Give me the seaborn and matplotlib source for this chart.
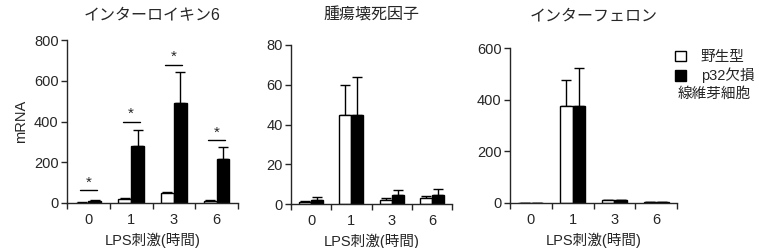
import matplotlib
matplotlib.use("Agg")
import matplotlib.pyplot as plt
import matplotlib.patches as mpatches
import seaborn as sns
import pandas as pd
import numpy as np

sns.set_style("ticks")
plt.rcParams['font.family'] = ['Liberation Sans', 'Noto Sans CJK JP']

hours = ['0', '1', '3', '6']
groups = ['野生型', 'p32欠損']

titles = ['インターロイキン6', '腫瘍壊死因子', 'インターフェロン']

il6_wt = [2, 20, 48, 12]
il6_ko = [10, 280, 490, 215]
il6_wt_err = [1, 3, 4, 3]
il6_ko_err = [5, 80, 152, 60]

tnf_wt = [1, 45, 2, 3]
tnf_ko = [2, 45, 4.5, 4.5]
tnf_wt_err = [0.4, 15, 0.8, 1.2]
tnf_ko_err = [1.5, 19, 2.5, 2.8]

ifn_wt = [1, 375, 10, 3]
ifn_ko = [1, 375, 10, 3]
ifn_wt_err = [0.5, 100, 2, 1]
ifn_ko_err = [0.5, 147, 2, 1]

ylims = [800, 80, 600]
yticks = [[0, 200, 400, 600, 800], [0, 20, 40, 60, 80], [0, 200, 400, 600]]

sig_line_y = [62, 398, 677, 308]
sig_star_y = [100, 437, 716, 346]

panels = [
    (il6_wt, il6_ko, il6_wt_err, il6_ko_err),
    (tnf_wt, tnf_ko, tnf_wt_err, tnf_ko_err),
    (ifn_wt, ifn_ko, ifn_wt_err, ifn_ko_err),
]

W, H = 759, 248
fig = plt.figure(figsize=(W / 100, H / 100), dpi=100)
rects = [
    (67, 238, 40, 203),
    (291, 452, 45, 204),
    (510, 677, 48, 203),
]
title_pads = [14.5, 18, 20]
axes = []
for (l, r, t, b) in rects:
    axes.append(fig.add_axes([l / W, 1 - b / H, (r - l) / W, (b - t) / H]))

for k, ax in enumerate(axes):
    wt, ko, wte, koe = panels[k]
    df = pd.DataFrame({
        'hour': hours * 2,
        'group': [groups[0]] * 4 + [groups[1]] * 4,
        'value': wt + ko,
    })
    sns.barplot(data=df, x='hour', y='value', hue='group', order=hours,
                hue_order=groups, palette={groups[0]: 'white', groups[1]: 'black'},
                edgecolor='black', linewidth=1.0, width=0.6, errorbar=None,
                legend=False, ax=ax, zorder=2)
    for cont, vals, errs in zip(ax.containers, [wt, ko], [wte, koe]):
        xs = [p.get_x() + p.get_width() / 2 for p in cont]
        ax.errorbar(xs, vals, yerr=[np.zeros(len(errs)), errs], fmt='none',
                    ecolor='black', elinewidth=1.0, capsize=3.5, capthick=1.0,
                    zorder=1)
    ax.set_xlim(-0.5, 3.5)
    ax.set_ylim(0, ylims[k])
    ax.set_yticks(yticks[k])
    ax.set_xticks(range(4))
    ax.set_xticklabels(hours)
    ax.set_xticks([-0.5, 0.5, 1.5, 2.5, 3.5], minor=True)
    ax.tick_params(axis='x', which='major', length=0, pad=7, labelsize=10.5)
    ax.tick_params(axis='x', which='minor', length=4, width=1.0, direction='out')
    ax.tick_params(axis='y', length=4, width=1.0, labelsize=10.5, pad=2)
    for s in ['top', 'right']:
        ax.spines[s].set_visible(False)
    for s in ['left', 'bottom']:
        ax.spines[s].set_linewidth(1.0)
    ax.set_xlabel('LPS刺激(時間)', fontsize=10.5, labelpad=4)
    ax.set_ylabel('')
    ax.set_title(titles[k], fontsize=11.5, pad=title_pads[k])

axes[0].set_ylabel('mRNA', fontsize=10.5, labelpad=4)

# significance marks on IL-6
for i in range(4):
    axes[0].plot([i - 0.2, i + 0.2], [sig_line_y[i], sig_line_y[i]],
                 color='black', lw=1.0, clip_on=False)
    axes[0].text(i, sig_star_y[i], '*', ha='center', va='center', fontsize=11)

handles = [mpatches.Patch(facecolor='white', edgecolor='black', lw=1.0),
           mpatches.Patch(facecolor='black', edgecolor='black', lw=1.0)]
fig.legend(handles, groups, loc='upper left', bbox_to_anchor=(662 / W, 1 - 37 / H),
           frameon=False, handlelength=0.75, handleheight=0.75, handletextpad=1.0,
           labelspacing=0.25, fontsize=10.5)
fig.text(678 / W, 1 - 94 / H, '線維芽細胞', fontsize=10.5, va='center', ha='left')

fig.savefig('out.png', dpi=100)
